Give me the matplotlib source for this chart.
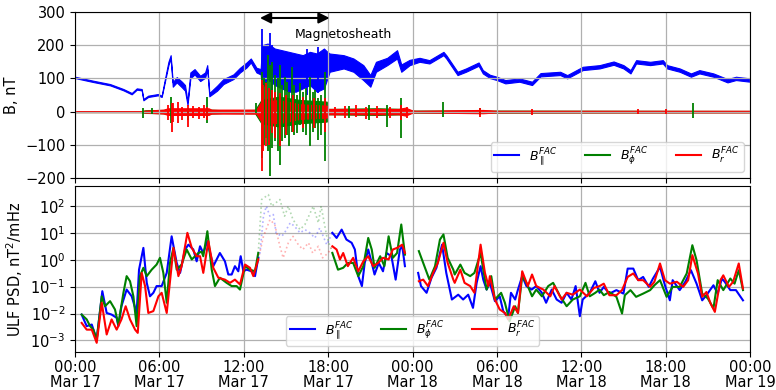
import numpy as np
import matplotlib
matplotlib.use("Agg")
import matplotlib.pyplot as plt
import matplotlib.dates as mdates
from matplotlib.lines import Line2D

# ---------------- top panel: field components (hours from Mar 17 00:00, nT) -------------
# B parallel: envelope of the noisy trace
bpar_t = [0, 1.3, 2.49, 3.44, 4.03, 4.39, 4.74, 4.86, 5.2, 5.9, 6.16, 6.4, 6.64, 6.8, 6.95,
          7.23, 7.6, 7.82, 8.0, 8.2, 8.5, 8.9, 9.25, 9.4, 9.55, 10.1, 10.55, 11.26, 11.73,
          12.2, 12.5, 12.9, 13.2, 13.3, 13.7, 14.2, 14.7, 15.2, 15.7, 16.2, 16.7, 17.2, 17.7,
          17.95, 18.1, 19.1, 19.8, 20.5, 21.0, 21.4, 22.2, 22.9, 23.2, 23.8, 24.5, 25.2, 26.2,
          26.4, 27.2, 27.8, 28.7, 29.0, 29.5, 30.0, 30.6, 31.6, 32.5, 33.1, 34.5, 35.0, 36.1,
          37.3, 38.3, 39.0, 39.5, 39.9, 40.9, 41.8, 42.1, 43.0, 43.8, 44.4, 45.4, 46.4, 47.0, 48]
bpar_lo = [101, 89, 79, 64, 52, 66, 64, 34, 44, 49, 44, 92, 140, 160, 75,
           88, 73, 63, 20, 100, 112, 92, 102, 128, 46, 63, 83, 98, 118,
           133, 148, 118, 112, 70, 100, 80, 70, 60, 60, 70, 80, 60, 70,
           100, 120, 130, 120, 95, 75, 120, 140, 160, 120, 140, 150, 145, 170,
           160, 110, 120, 138, 115, 101, 95, 85, 90, 80, 106, 110, 100, 125,
           130, 141, 130, 115, 145, 140, 145, 130, 120, 105, 115, 105, 88, 95, 90]
bpar_hi = [105, 93, 83, 68, 56, 70, 68, 38, 48, 53, 48, 100, 150, 170, 88,
           104, 90, 80, 30, 118, 128, 108, 118, 140, 56, 78, 98, 112, 132,
           148, 160, 132, 128, 200, 205, 190, 185, 180, 175, 170, 180, 175, 190,
           180, 175, 170, 160, 140, 110, 150, 162, 185, 142, 156, 162, 155, 180,
           170, 120, 130, 148, 125, 111, 105, 95, 100, 90, 116, 120, 110, 135,
           140, 151, 140, 125, 155, 150, 155, 140, 130, 115, 125, 115, 98, 105, 100]
bpar_spk_t = [13.3, 13.85, 14.0, 16.5, 17.3]
bpar_spk_lo = [70, 90, 60, 50, 55]
bpar_spk_hi = [248, 236, 200, 190, 195]

bphi_t = [0, 4.7, 5.0, 6.3, 7.0, 9.6, 10.5, 12.8, 13.25, 14.5, 16.0, 17.9, 18.0, 21.5,
          23.4, 24.0, 30, 48]
bphi_lo = [-1.5, -1.5, -4, -5, -8, -6, -4, -5, -35, -45, -35, -30, -8, -10, -8, -3, -3, -2]
bphi_hi = [1.5, 1.5, 4, 5, 8, 6, 4, 5, 35, 45, 35, 30, 8, 10, 8, 3, 3, 2]
bphi_spk_t = [4.85, 5.5, 6.85, 8.0, 9.4, 12.9, 13.3, 13.45, 13.6, 13.75, 13.87, 14.0, 14.2,
              14.4, 14.6, 14.75, 14.9, 15.05, 15.2, 15.4, 15.6, 15.8, 16.0, 16.2, 16.45,
              16.7, 16.9, 17.1, 17.3, 17.5, 17.8, 19.5, 20.9, 22.2, 23.15, 26.2, 28.8,
              43.95]
bphi_spk_lo = [-20, -8, -35, -25, -35, -5, -140, -100, -80, -120, -195, -110, -90, -120,
               -160, -90, -80, -70, -105, -60, -70, -65, -40, -60, -70, -105,
               -60, -50, -85, -70, -150, -20, -25, -45, -80, -15, -10, -18]
bphi_spk_hi = [10, 12, 45, 12, 45, 25, 120, 100, 90, 170, 140, 150, 110, 100,
               140, 80, 105, 90, 60, 135, 80, 50, 85, 60, 70, 105,
               60, 65, 40, 50, 120, 18, 20, 20, 40, 30, 12, 26]

br_t = [0, 4.7, 5.0, 6.3, 6.6, 9.5, 9.7, 12.9, 13.25, 14.5, 16.0, 17.9, 18.0, 23.0, 23.5,
        23.9, 24.2, 29, 30, 48]
br_lo = [-1.5, -1.5, -3, -6, -10, -10, -6, -6, -30, -35, -22, -18, -8, -8, -12, -5, -2.5, -5, -2.5, -2.5]
br_hi = [1.5, 1.5, 3, 6, 10, 10, 6, 6, 30, 35, 22, 18, 8, 8, 12, 5, 2.5, 5, 2.5, 2.5]
br_spk_t = [6.6, 6.9, 7.0, 7.3, 7.6, 8.0, 8.4, 8.8, 9.2, 9.4, 13.27, 13.4, 13.6, 13.8, 14.0,
            14.2, 14.6, 15.0, 15.5, 16.2, 17.0, 17.8, 18.5, 19.2, 20.0, 20.7, 21.5, 22.4,
            23.2, 23.6, 28.8, 32.5, 40.0, 42.0]
br_spk_lo = [-25, -60, -30, -35, -25, -45, -20, -22, -20, -25, -180, -120, -105, -100, -65,
             -80, -105, -70, -60, -50, -50, -60, -18, -20, -15, -22, -18, -20,
             -25, -20, -15, -10, -8, -8]
br_spk_hi = [20, 25, 25, 30, 15, 20, 18, 15, 20, 15, 95, 80, 85, 70, 65,
             60, 55, 50, 50, 45, 40, 40, 15, 18, 20, 15, 18, 15,
             20, 15, 12, 8, 8, 8]

# ---------------- bottom panel: ULF PSD, log10(nT^2/mHz) -------------------------------
# segment 1 (solid)
s1_par_t = [0.47, 0.83, 1.19, 1.54, 1.94, 2.25, 2.6, 2.96, 3.08, 3.3, 3.67, 4.03, 4.38, 4.55,
            4.86, 5.1, 5.33, 5.57, 5.8, 6.16, 6.52, 6.87, 7.23, 7.47, 7.82, 8.06, 8.41, 8.65,
            8.89, 9.12, 9.41, 9.83, 10.3, 10.66, 10.9, 11.14, 11.37, 11.61, 11.78, 11.97,
            12.2, 12.56, 12.8, 13.03]
s1_par = [-2.04, -2.47, -2.41, -2.97, -1.17, -1.98, -2.04, -2.16, -2.47, -1.73, -1.11, -1.36,
          -1.98, -0.37, 0.44, -0.86, -1.36, -1.23, -0.98, -0.98, -0.49, 0.87, -0.12, -0.49,
          0.38, 0.56, 0.38, -0.06, 0.5, 0.25, 0.69, -0.24, 0.25, -0.06, -0.55, -0.55, -0.24,
          -0.43, 0.13, -0.43, -0.37, -0.43, -0.61, 0.07]
s1_phi_t = [0.47, 0.83, 1.07, 1.3, 1.54, 1.9, 2.13, 2.49, 2.84, 3.08, 3.44, 3.67, 3.91, 4.15,
            4.38, 4.62, 4.86, 5.1, 5.45, 5.8, 6.04, 6.28, 6.52, 6.75, 7.0, 7.23, 7.58, 7.94,
            8.3, 8.77, 9.0, 9.12, 9.41, 9.72, 9.95, 10.3, 10.78, 11.14, 11.49, 11.73, 12.09,
            12.44, 12.8, 13.03]
s1_phi = [-2.04, -2.22, -2.47, -2.6, -2.97, -1.36, -1.73, -1.54, -1.85, -2.41, -1.23, -0.61,
          -0.8, -1.36, -2.47, -0.61, -0.3, -0.61, -0.37, -0.18, 0.07, -0.49, -1.6, -0.12, 0.44,
          -0.37, -0.18, 0.38, 0.01, 0.25, 0.3, 0.13, 1.06, -0.37, -0.98, -0.67, -0.86, -0.98,
          -0.98, -1.11, -0.24, -0.37, -0.43, 0.25]
s1_r_t = [0.47, 0.83, 1.19, 1.54, 1.9, 2.25, 2.6, 2.96, 3.3, 3.6, 3.91, 4.27, 4.46, 4.74,
          4.98, 5.21, 5.57, 5.93, 6.16, 6.52, 7.0, 7.35, 7.58, 7.99, 8.3, 8.65, 8.89, 9.12,
          9.48, 9.83, 10.19, 10.66, 11.02, 11.37, 11.73, 12.09, 12.44, 12.68, 13.03]
s1_r = [-2.35, -2.6, -2.6, -3.09, -1.6, -2.78, -2.22, -2.6, -2.22, -1.73, -2.22, -2.6, -2.72,
        -0.49, -0.98, -1.98, -1.91, -1.36, -1.23, -1.98, 0.44, -0.61, -0.24, 1.0, 0.44, 0.13,
        0.13, -0.49, 0.69, -0.3, -0.67, -0.74, -0.86, -0.74, -0.92, -0.18, -0.3, -0.61, 0.01]

# magnetosheath interval (dotted, faint)
ms_par_t = [13.03, 13.15, 13.4, 13.6, 13.86, 14.1, 14.3, 14.7, 14.9, 15.3, 15.6, 16.0, 16.35,
            16.7, 17.06, 17.4, 17.9, 18.3]
ms_par = [0.07, 0.25, 1.62, 1.99, 1.62, 1.68, 1.0, 0.87, 1.0, 1.37, 1.25, 1.0, 1.12, 1.0,
          0.81, 1.18, 0.56, 1.0]
ms_phi_t = [13.03, 13.27, 13.75, 13.98, 14.57, 14.9, 15.17, 15.5, 16.0, 16.35, 16.94, 17.3,
            17.5, 17.9, 18.3]
ms_phi = [0.25, 2.24, 2.42, 1.99, 2.24, 1.62, 1.99, 1.49, 1.12, 1.31, 1.99, 1.37, 1.99, 0.87, 0.25]
ms_r_t = [13.03, 13.4, 13.86, 14.2, 14.57, 14.8, 15.17, 15.5, 15.88, 16.2, 16.6, 16.9, 17.3,
          17.6, 18.0, 18.3]
ms_r = [0.01, 0.87, 1.49, 1.31, 0.5, 0.07, 0.63, 0.87, 0.56, 0.38, 0.63, 0.25, 0.5, 0.07, 0.25, 0.5]

# segment 2 (solid)
s2_par_t = [18.3, 18.6, 18.96, 19.3, 19.67, 19.9, 20.14, 20.4, 20.6, 20.85, 21.1, 21.3, 21.6,
            21.9, 22.15, 22.5, 22.8, 23.1, 23.27, 23.46]
s2_par = [1.0, 0.81, 1.12, 0.75, 0.63, 0.38, -0.61, -0.98, -0.12, 0.38, -0.12, -0.55, -0.12,
          -0.43, 0.25, 0.13, -0.74, 0.38, 0.5, -0.24]
s2_phi_t = [18.3, 18.7, 19.07, 19.4, 19.78, 20.14, 20.5, 20.85, 21.1, 21.3, 21.7, 22.0, 22.3,
            22.6, 22.9, 23.2, 23.46]
s2_phi = [0.25, -0.37, -0.3, -0.12, -0.12, -0.61, -0.24, 0.81, 0.38, -0.3, 0.13, -0.24, 0.87,
          0.07, 0.25, 1.31, 0.19]
s2_r_t = [18.3, 18.6, 18.84, 19.07, 19.4, 19.78, 20.14, 20.5, 20.85, 21.2, 21.56, 21.9, 22.3,
          22.6, 22.9, 23.27, 23.46]
s2_r = [0.5, 0.38, 0.01, 0.25, -0.24, 0.07, -0.43, -0.06, 0.13, -0.24, -0.12, 0.07, 0.01,
        0.38, 0.44, 0.56, 0.25]

# segment 3 (solid)
s3_par_t = [24.4, 24.6, 25.0, 25.35, 25.7, 26.1, 26.4, 26.8, 27.25, 27.6, 27.96, 28.3, 28.56,
            28.84, 29.03, 29.27, 29.5, 29.86, 30.2, 30.45, 30.8, 31.0, 31.3, 31.5, 31.8, 32.1,
            32.47, 32.8, 33.2, 33.5, 33.9, 34.25, 34.6, 34.96, 35.3, 35.6, 35.9, 36.1, 36.6,
            37.0, 37.3, 37.6, 38.0, 38.5, 39.0, 39.3, 39.7, 40.05, 40.4, 40.8, 41.1, 41.6,
            41.95, 42.3, 42.5, 43.0, 43.4, 43.8, 44.2, 44.6, 44.9, 45.4, 45.7, 46.0, 46.2,
            46.6, 47.0, 47.5]
s3_par = [-0.49, -0.98, -1.23, -0.67, -0.3, 0.56, -0.49, -1.48, -1.3, -1.48, -1.3, -1.79,
          -0.86, -0.24, -0.74, -1.11, -0.86, -1.54, -1.36, -1.91, -2.16, -1.23, -1.48, -1.11,
          -0.61, -0.98, -1.11, -0.98, -1.23, -1.6, -1.11, -1.48, -1.6, -1.23, -1.48, -0.98,
          -2.1, -1.48, -1.23, -0.8, -1.23, -1.01, -1.26, -1.13, -1.26, -0.33, -0.33, -0.76,
          -0.64, -1.01, -0.7, -0.27, -0.95, -1.51, -0.76, -1.13, -0.82, -0.39, -0.89, -1.51,
          -1.32, -0.95, -1.26, -0.7, -0.82, -1.13, -1.13, -1.51]
s3_phi_t = [24.45, 24.76, 25.2, 25.6, 25.95, 26.2, 26.5, 26.9, 27.0, 27.4, 27.7, 28.1, 28.4,
            28.84, 29.03, 29.27, 29.6, 29.86, 30.3, 30.57, 30.9, 31.3, 31.5, 31.8, 32.1, 32.5,
            32.8, 33.2, 33.65, 34.0, 34.5, 34.96, 35.4, 35.9, 36.3, 36.6, 37.0, 37.3, 37.6,
            38.0, 38.5, 38.9, 39.1, 39.5, 39.9, 40.4, 40.9, 41.2, 41.6, 42.07, 42.5, 43.0,
            43.5, 43.9, 44.2, 44.6, 45.0, 45.4, 45.7, 46.1, 46.6, 46.9, 47.2, 47.5]
s3_phi = [0.32, -0.12, -0.74, -0.24, 0.75, 0.94, 0.07, -0.37, -0.55, -0.18, -0.49, -0.61,
          -0.49, 0.25, -0.37, -1.11, -0.61, -1.48, -1.23, -1.6, -2.29, -1.73, -1.98, -0.61,
          -0.86, -1.36, -1.11, -1.36, -0.98, -0.86, -1.36, -1.73, -1.48, -1.36, -0.86, -1.36,
          -1.23, -1.11, -1.32, -1.2, -1.38, -2.0, -1.32, -1.13, -1.38, -1.26, -1.13, -0.95,
          -0.76, -1.38, -1.01, -1.01, -0.51, 0.54, -0.02, -1.26, -1.44, -1.81, -0.76, -1.13,
          -0.7, -0.89, -0.39, -1.13]
s3_r_t = [24.45, 24.76, 25.1, 25.47, 25.8, 26.2, 26.5, 26.9, 27.0, 27.4, 27.7, 28.1, 28.4,
          28.84, 29.15, 29.4, 29.5, 29.86, 30.2, 30.57, 30.8, 31.2, 31.5, 31.8, 32.2, 32.5,
          32.8, 33.3, 33.8, 34.1, 34.6, 34.96, 35.4, 35.9, 36.4, 36.9, 37.3, 37.6, 38.0, 38.5,
          38.9, 39.3, 39.7, 40.05, 40.4, 40.9, 41.2, 41.6, 41.95, 42.3, 42.8, 43.25, 43.6,
          43.9, 44.3, 44.6, 44.9, 45.2, 45.5, 45.9, 46.1, 46.5, 46.8, 47.2, 47.5]
s3_r = [-0.8, -0.74, -0.98, -0.49, -0.12, 0.63, -0.12, -0.74, -0.86, -0.37, -0.86, -0.98,
        -1.23, 0.56, -0.49, -0.98, -0.61, -1.48, -1.85, -1.98, -2.22, -1.73, -1.98, -0.43,
        -0.98, -0.55, -0.98, -1.11, -1.36, -0.98, -1.48, -1.23, -1.3, -1.11, -1.36, -1.05,
        -0.98, -0.89, -1.32, -1.32, -1.13, -0.64, -0.51, -0.76, -0.76, -1.01, -0.82, -0.14,
        -0.76, -0.89, -0.82, -1.01, -0.76, 0.17, -0.51, -1.38, -1.2, -1.63, -1.94, -0.76,
        -0.58, -1.01, -0.82, -0.14, -1.07]

labels = [r'$B_\parallel^{FAC}$', r'$B_\phi^{FAC}$', r'$B_r^{FAC}$']
colors = ['blue', 'green', 'red']

base = mdates.datestr2num('2015-03-17 00:00')
def tx(h):
    return base + np.asarray(h) / 24.0

fig = plt.figure(figsize=(7.76, 3.9), dpi=100)
ax1 = fig.add_axes([0.0967, 0.5436, 0.8698, 0.4256])
ax2 = fig.add_axes([0.0967, 0.0974, 0.8698, 0.4256], sharex=ax1)

# top panel
bands = [(bpar_t, bpar_lo, bpar_hi, bpar_spk_t, bpar_spk_lo, bpar_spk_hi),
         (bphi_t, bphi_lo, bphi_hi, bphi_spk_t, bphi_spk_lo, bphi_spk_hi),
         (br_t, br_lo, br_hi, br_spk_t, br_spk_lo, br_spk_hi)]
for (t, lo, hi, st, slo, shi), c in zip(bands, colors):
    ax1.fill_between(tx(t), lo, hi, color=c, lw=0.8)
    ax1.vlines(tx(st), slo, shi, color=c, lw=1.3)
ax1.set_ylim(-200, 300)
ax1.set_yticks([-200, -100, 0, 100, 200, 300])
ax1.set_ylabel('B, nT', fontsize=10.5)
ax1.grid(True, color='#b0b0b0', lw=0.9)
ax1.tick_params(labelbottom=False, labelsize=10.5)
ax1.annotate('', xy=(tx(13.15), 282), xytext=(tx(18.1), 282),
             arrowprops=dict(arrowstyle='<|-|>', color='k', lw=1.5, mutation_scale=16,
                             shrinkA=0, shrinkB=0))
ax1.text(tx(15.6), 233, 'Magnetosheath', fontsize=9, va='center', ha='left')
handles = [Line2D([], [], color=c, lw=1.5) for c in colors]
ax1.legend(handles, labels, loc='lower right', ncol=3, fontsize=9, columnspacing=2.2,
           handlelength=2.0, borderpad=0.3, framealpha=0.8)

# bottom panel
segs = [(s1_par_t, s1_par, s1_phi_t, s1_phi, s1_r_t, s1_r),
        (s2_par_t, s2_par, s2_phi_t, s2_phi, s2_r_t, s2_r),
        (s3_par_t, s3_par, s3_phi_t, s3_phi, s3_r_t, s3_r)]
for seg in segs:
    for k, c in enumerate(colors):
        ax2.plot(tx(seg[2 * k]), 10 ** np.asarray(seg[2 * k + 1]), color=c, lw=1.5)
ms = [(ms_par_t, ms_par), (ms_phi_t, ms_phi), (ms_r_t, ms_r)]
for (t, v), c in zip(ms, colors):
    ax2.plot(tx(t), 10 ** np.asarray(v), color=c, lw=1.2, ls=':', alpha=0.3)
ax2.set_yscale('log')
ax2.set_ylim(3.7e-4, 550)
ax2.set_yticks([1e-3, 1e-2, 1e-1, 1e0, 1e1, 1e2])
ax2.set_ylabel(r'ULF PSD, nT$^2$/mHz', fontsize=10.5)
ax2.grid(True, which='major', color='#b0b0b0', lw=0.9)
ax2.tick_params(labelsize=10.5)
ax2.tick_params(axis='x', pad=2)
ax2.legend(handles, labels, loc='lower center', ncol=3, fontsize=9, columnspacing=2.2,
           handlelength=2.0, borderpad=0.3, framealpha=0.8)

ax2.set_xlim(tx(0), tx(48))
ax2.xaxis.set_major_locator(mdates.HourLocator(byhour=[0, 6, 12, 18]))
ax2.xaxis.set_major_formatter(mdates.DateFormatter('%H:%M\n%b %d'))
for lab in ax2.get_xticklabels():
    lab.set_linespacing(1.0)

fig.savefig('out.png', dpi=100)
